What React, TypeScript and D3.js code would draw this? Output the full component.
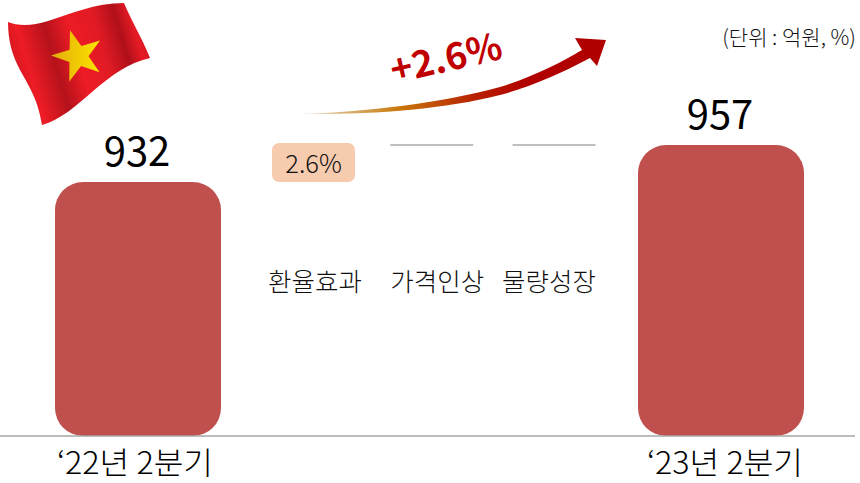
import React, { useEffect, useRef } from 'react';
import * as d3 from 'd3';

const periods = ['‘22년 2분기', '‘23년 2분기'];
const sales = [932, 957];
const effects = ['환율효과', '가격인상', '물량성장'];
const effectValues = ['2.6%', null, null];
const growthLabel = '+2.6%';
const unitLabel = '(단위 : 억원, %)';

const FONT = "'Noto Sans CJK KR', 'Noto Sans', sans-serif";

const App = () => {
  const chartRef = useRef<SVGSVGElement>(null);

  useEffect(() => {
    const svg = d3.select(chartRef.current);
    svg.selectAll('*').remove();

    const baseline = 436;
    const x = d3.scalePoint().domain(periods).range([138, 721]);
    const xEffect = d3.scalePoint().domain(effects).range([313.5, 554]);
    // axis is cut off in the original, bars don't start at zero
    const y = d3.scaleLinear().domain([760.4, 957]).range([baseline, 145]);
    const barWidth = 166;

    const defs = svg.append('defs');

    const flagGrad = defs
      .append('linearGradient')
      .attr('id', 'flagFold')
      .attr('gradientUnits', 'userSpaceOnUse')
      .attr('x1', 8)
      .attr('y1', 70)
      .attr('x2', 150)
      .attr('y2', 28);
    [
      [0, '#c8141f'],
      [0.14, '#ee1c25'],
      [0.32, '#b5121b'],
      [0.48, '#ee1c25'],
      [0.66, '#e01a24'],
      [0.8, '#b0101a'],
      [0.9, '#e81b25'],
      [1, '#b8121c']
    ].forEach(([o, c]) => flagGrad.append('stop').attr('offset', o).attr('stop-color', c));

    const starGrad = defs
      .append('linearGradient')
      .attr('id', 'starGrad')
      .attr('x1', 0)
      .attr('x2', 1);
    starGrad.append('stop').attr('offset', 0).attr('stop-color', '#e2ac0a');
    starGrad.append('stop').attr('offset', 1).attr('stop-color', '#fde300');

    const arrowGrad = defs
      .append('linearGradient')
      .attr('id', 'arrowGrad')
      .attr('gradientUnits', 'userSpaceOnUse')
      .attr('x1', 295)
      .attr('y1', 0)
      .attr('x2', 606)
      .attr('y2', 0);
    arrowGrad.append('stop').attr('offset', 0).attr('stop-color', '#c9a36a').attr('stop-opacity', 0.05);
    arrowGrad.append('stop').attr('offset', 0.14).attr('stop-color', '#c99a4a').attr('stop-opacity', 0.7);
    arrowGrad.append('stop').attr('offset', 0.33).attr('stop-color', '#c8780a');
    arrowGrad.append('stop').attr('offset', 0.58).attr('stop-color', '#b82000');
    arrowGrad.append('stop').attr('offset', 0.75).attr('stop-color', '#b00000');
    arrowGrad.append('stop').attr('offset', 1).attr('stop-color', '#b00000');

    // flag
    svg
      .append('path')
      .attr('d', 'M8,22 C18,26 32,26 48,21 C70,14 95,3 124,3 C130,18 142,38 150,58 C128,63 112,75 92,92 C76,106 60,120 42,125 C38,100 30,88 20,70 C12,55 8,40 8,22 Z')
      .attr('fill', 'url(#flagFold)');
    const star = d3.range(10).map(i => {
      const r = i % 2 === 0 ? 27 : 10.5;
      const a = (i * Math.PI) / 5 - 0.3;
      return [78 + r * Math.sin(a), 56 - r * Math.cos(a)] as [number, number];
    });
    svg.append('path').attr('d', d3.line()(star) + 'Z').attr('fill', 'url(#starGrad)');

    // growth arrow
    svg
      .append('path')
      .attr('d', 'M295,114 C370,112 440,103 500,87 C535,76 560,63 582,50 L575,38 L606,40 L597,66 L590,58 C560,74 530,87 500,95 C440,110 370,115 295,114 Z')
      .attr('fill', 'url(#arrowGrad)');

    svg
      .append('text')
      .attr('transform', 'translate(449,71) rotate(-13)')
      .attr('text-anchor', 'middle')
      .attr('font-size', 37)
      .attr('font-weight', 700)
      .attr('fill', '#c00000')
      .text(growthLabel);

    svg
      .append('text')
      .attr('x', 856)
      .attr('y', 45)
      .attr('text-anchor', 'end')
      .attr('font-size', 21)
      .attr('font-weight', 300)
      .attr('fill', '#111')
      .text(unitLabel);

    // bars
    svg
      .selectAll('.bar')
      .data(sales)
      .enter()
      .append('rect')
      .attr('class', 'bar')
      .attr('x', (d, i) => x(periods[i]) - barWidth / 2)
      .attr('y', d => y(d))
      .attr('width', barWidth)
      .attr('height', d => baseline - y(d))
      .attr('rx', 28)
      .attr('fill', '#c0504d');

    svg
      .selectAll('.bar-label')
      .data(sales)
      .enter()
      .append('text')
      .attr('class', 'bar-label')
      .attr('x', (d, i) => x(periods[i]) - 1)
      .attr('y', d => y(d) - 16)
      .attr('text-anchor', 'middle')
      .attr('font-size', 40)
      .attr('fill', '#000')
      .text(d => d);

    // baseline
    svg
      .append('line')
      .attr('x1', 0)
      .attr('x2', 855)
      .attr('y1', baseline)
      .attr('y2', baseline)
      .attr('stroke', '#a6a6a6')
      .attr('stroke-width', 1.5);

    svg
      .selectAll('.period')
      .data(periods)
      .enter()
      .append('text')
      .attr('class', 'period')
      .attr('x', (d, i) => x(d) + [-3, 4][i])
      .attr('y', 474)
      .attr('text-anchor', 'middle')
      .attr('font-size', 31)
      .attr('font-weight', 300)
      .attr('textLength', 156)
      .attr('lengthAdjust', 'spacingAndGlyphs')
      .attr('fill', '#000')
      .text(d => d);

    // effect columns
    const labelNudge = [1.5, 3.5, -5];
    const markNudge = [0, -2, 0];

    const cols = svg
      .selectAll('.effect')
      .data(effects)
      .enter()
      .append('g')
      .attr('class', 'effect')
      .attr('transform', (d, i) => `translate(${xEffect(d) + markNudge[i]},0)`);

    cols
      .append('text')
      .attr('x', (d, i) => labelNudge[i] - markNudge[i])
      .attr('y', 291)
      .attr('text-anchor', 'middle')
      .attr('font-size', 25.5)
      .attr('font-weight', 300)
      .attr('fill', '#111')
      .text(d => d);

    cols.each(function (d, i) {
      const g = d3.select(this);
      if (effectValues[i] === null) {
        g.append('line')
          .attr('x1', -41.5)
          .attr('x2', 41.5)
          .attr('y1', 145)
          .attr('y2', 145)
          .attr('stroke', '#808080')
          .attr('stroke-width', 1.2);
      } else {
        g.append('rect')
          .attr('x', -41.5)
          .attr('y', 143)
          .attr('width', 83)
          .attr('height', 39)
          .attr('rx', 7)
          .attr('fill', '#f6cbae');
        g.append('text')
          .attr('y', 173)
          .attr('text-anchor', 'middle')
          .attr('font-size', 25.5)
          .attr('font-weight', 300)
          .attr('fill', '#111')
          .text(effectValues[i]);
      }
    });
  }, []);

  return (
    <svg
      ref={chartRef}
      width={860}
      height={483}
      style={{ position: 'absolute', left: 0, top: 0, fontFamily: FONT, background: '#fff' }}
    />
  );
};

export default App;
